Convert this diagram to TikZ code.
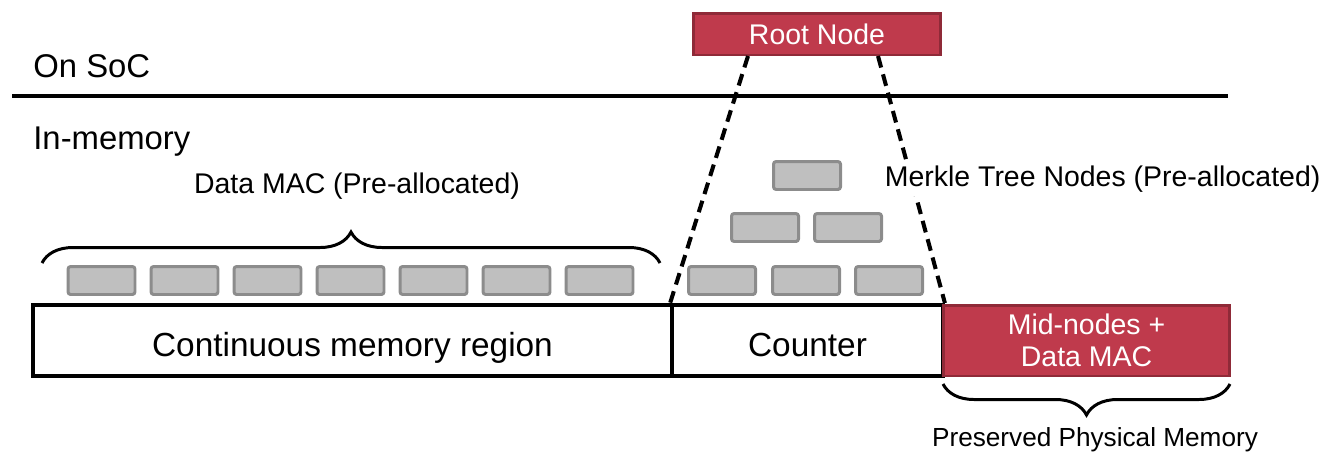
\documentclass[tikz,border=0pt]{standalone}
\usepackage{fontspec}
\setmainfont{Liberation Sans}
\usetikzlibrary{decorations.pathreplacing}
\definecolor{redfill}{HTML}{BF3A4C}
\definecolor{redline}{HTML}{8F2A38}
\definecolor{boxfill}{HTML}{BFBFBF}
\definecolor{boxline}{HTML}{8C8C8C}
\begin{document}
\begin{tikzpicture}[x=0.02cm,y=-0.02cm,
  graybox/.style={draw=boxline,fill=boxfill,line width=1.7pt,rounded corners=1.5pt,minimum width=1.34cm,minimum height=0.56cm,inner sep=0pt},
  membox/.style={draw=black,line width=2.2pt,minimum height=1.42cm,inner sep=0pt,text height=0.62cm,text depth=0pt,font=\fontsize{19}{23}\selectfont},
  redbox/.style={draw=redline,fill=redfill,line width=1.7pt,text=white,inner sep=0pt},
  dashline/.style={line width=2.3pt,dash pattern=on 6.8pt off 4pt},
  bracestyle/.style={decorate,line width=1.7pt,decoration={brace,amplitude=0.62cm}},
  lbl/.style={inner sep=0pt,font=\fontsize{16.2}{19}\selectfont}]
\useasboundingbox (0,0) rectangle (1334,457);
% separator
\coordinate (sepL) at (12,96);
\coordinate (sepR) at (1228,96);
\draw[line width=2.3pt] (sepL) -- (sepR);
\node[anchor=west,inner sep=0pt,font=\fontsize{18.7}{22}\selectfont] (soc) at (33,66) {On SoC};
\node[anchor=west,inner sep=0pt,font=\fontsize{18.7}{22}\selectfont] (inmem) at (33,142) {In-memory};
% memory regions
\node[membox,minimum width=12.78cm] (cont) at (352.5,340.5) {Continuous memory region};
\node[membox,minimum width=5.42cm] (ctr) at (807.5,340.5) {Counter};
\node[redbox,minimum width=5.74cm,minimum height=1.42cm,align=center,font=\fontsize{16.2}{18}\selectfont] (mid) at (1086.5,340.5) {Mid-nodes +\\Data MAC};
% root node
\node[redbox,minimum width=4.96cm,minimum height=0.84cm,font=\fontsize{16.2}{19}\selectfont] (root) at (817,34) {Root Node};
% data MAC boxes
\foreach \i in {0,...,6} {
  \node[graybox] (mac\i) at ({101.5+83*\i},280.5) {};
}
% merkle boxes
\node[graybox] (m1) at (807,175.5) {};
\node[graybox] (m2a) at (765,227.5) {};
\node[graybox] (m2b) at (848,227.5) {};
\node[graybox] (m3a) at (722,280.5) {};
\node[graybox] (m3b) at (806,280.5) {};
\node[graybox] (m3c) at (889,280.5) {};
% dashed lines
\coordinate (rl) at (748,56);
\coordinate (rr) at (878,56);
\draw[dashline] (rl) -- (ctr.north west);
\draw[dashline] (rr) -- (ctr.north east);
\node[lbl,anchor=west,fill=white,inner sep=2pt] (mtn) at (881,179) {Merkle Tree Nodes (Pre-allocated)};
% braces
\coordinate (b1s) at (42,263);
\coordinate (b1e) at (660,263);
\draw[bracestyle] (b1s) -- (b1e);
\node[lbl] (dmac) at (357,186) {Data MAC (Pre-allocated)};
\coordinate (b2s) at (1230,384);
\coordinate (b2e) at (943,384);
\draw[bracestyle] (b2s) -- (b2e);
\node[inner sep=0pt,font=\fontsize{14.9}{18}\selectfont] (ppm) at (1095,440) {Preserved Physical Memory};
\end{tikzpicture}
\end{document}
